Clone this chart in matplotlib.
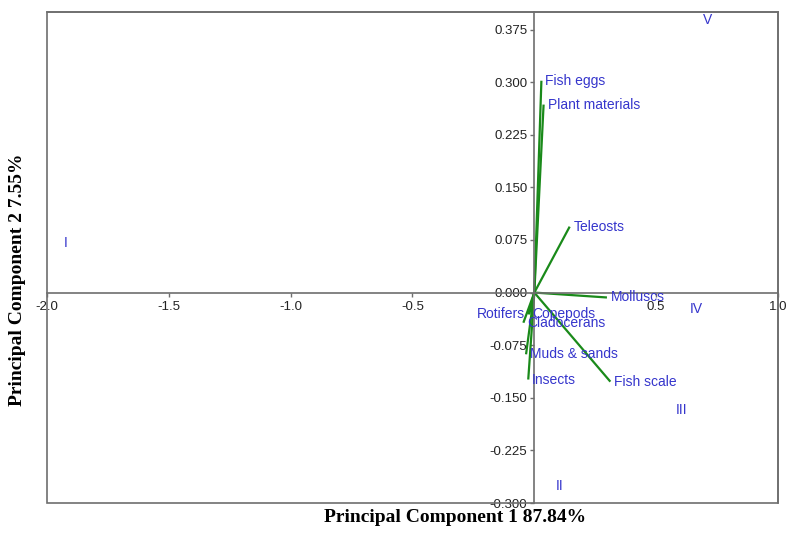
import matplotlib
matplotlib.use("Agg")
import matplotlib.pyplot as plt
from matplotlib.patches import Rectangle
from matplotlib.transforms import offset_copy

# Loading vectors (variables)
var_names = ["Fish eggs", "Plant materials", "Teleosts", "Molluscs", "Fish scale",
             "Insects", "Muds & sands", "Rotifers", "Copepods", "Cladocerans"]
var_pc1 = [0.029, 0.038, 0.145, 0.298, 0.312, -0.025, -0.034, -0.021, -0.025, -0.045]
var_pc2 = [0.302, 0.268, 0.094, -0.007, -0.127, -0.124, -0.088, -0.031, -0.031, -0.043]
var_align = ["left", "left", "left", "left", "left", "left", "left", "right", "left", "left"]

# Sample scores
sample_names = ["I", "II", "III", "IV", "V"]
sample_pc1 = [-1.923, 0.104, 0.604, 0.665, 0.709]
sample_pc2 = [0.070, -0.276, -0.168, -0.024, 0.389]

xticks = [-2.0, -1.5, -1.0, -0.5, 0.5, 1.0]
xtick_labels = ["-2.0", "-1.5", "-1.0", "-0.5", "0.5", "1.0"]
yticks = [-0.300, -0.225, -0.150, -0.075, 0.000, 0.075, 0.150, 0.225, 0.300, 0.375]

xlabel = "Principal Component 1 87.84%"
ylabel = "Principal Component 2 7.55%"

BLUE = "#3535cc"
GREEN = "#1a8a1a"
FRAME = "#6e6e6e"

fig = plt.figure(figsize=(7.89, 5.35), dpi=100)
ax = fig.add_axes([47/789, 1 - 503/535, (778-47)/789, (503-12)/535])
ax.set_xlim(-2.0, 1.0)
ax.set_ylim(-0.3, 0.4)

# axes through origin
for s in ["left", "bottom"]:
    ax.spines[s].set_position(("data", 0))
    ax.spines[s].set_color(FRAME)
    ax.spines[s].set_linewidth(1.2)
for s in ["top", "right"]:
    ax.spines[s].set_color(FRAME)
    ax.spines[s].set_linewidth(1.2)
ax.add_patch(Rectangle((0, 0), 1, 1, transform=ax.transAxes, fill=False,
                       edgecolor=FRAME, linewidth=1.2, clip_on=False, zorder=3))

ax.set_xticks(xticks)
ax.set_xticklabels(xtick_labels)
ax.set_yticks(yticks)
ax.set_yticklabels([f"{v:.3f}" for v in yticks])
for lab in ax.get_xticklabels() + ax.get_yticklabels():
    lab.set_fontfamily("Liberation Sans")
    lab.set_fontsize(9.5)
    lab.set_color("#222222")
ax.tick_params(axis="both", direction="out", length=3, width=1, color=FRAME, pad=2)
ax.tick_params(axis="x", pad=3)

# vectors
for name, x, y, al in zip(var_names, var_pc1, var_pc2, var_align):
    ax.plot([0, x], [0, y], color=GREEN, linewidth=1.6, solid_capstyle="butt", zorder=2)
    dx = 4 if al == "left" else -4
    tr = offset_copy(ax.transData, fig=fig, x=dx, y=0, units="dots")
    ax.text(x, y, name, transform=tr, ha=al, va="center", color=BLUE,
            fontsize=10, family="Liberation Sans", zorder=4)

# scores
for name, x, y in zip(sample_names, sample_pc1, sample_pc2):
    ax.text(x, y, name, ha="center", va="center", color=BLUE,
            fontsize=10, family="Liberation Sans", zorder=4)

fig.text(455/789, 1 - 518/535, xlabel, ha="center", va="center",
         fontsize=14, fontweight="bold", family="Liberation Serif")
fig.text(18/789, 1 - 280/535, ylabel, ha="center", va="center", rotation=90,
         fontsize=14, fontweight="bold", family="Liberation Serif")

fig.savefig("out.png", dpi=100)
